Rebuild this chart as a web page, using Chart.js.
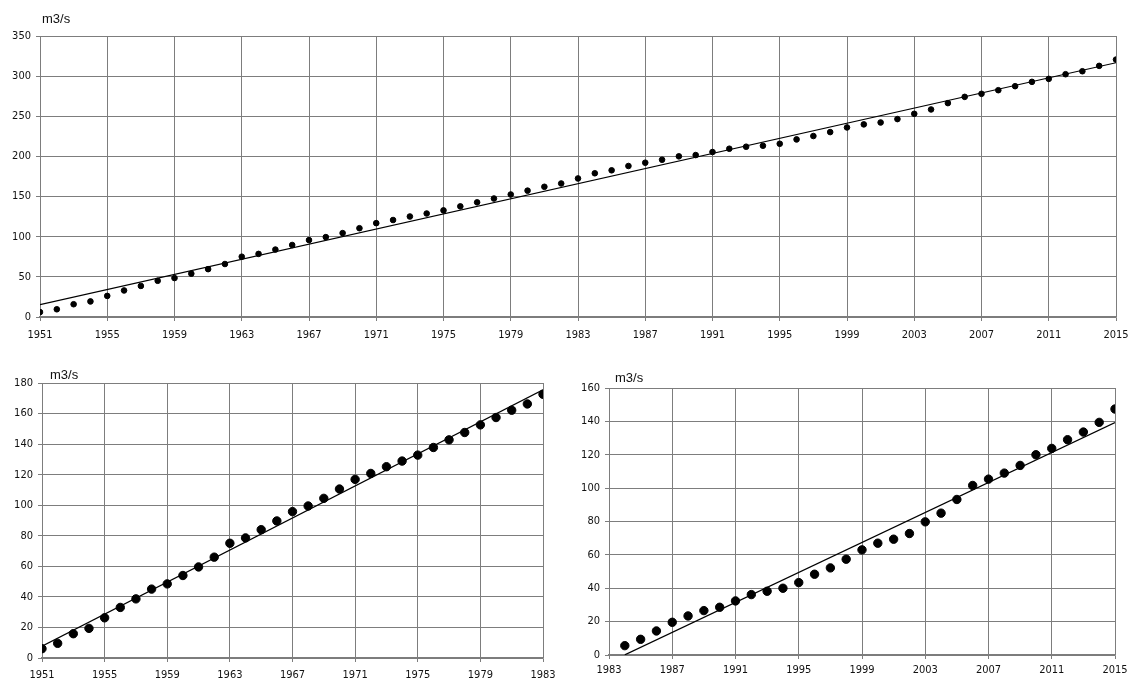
<!DOCTYPE html>
<html>
<head>
<meta charset="utf-8">
<script src="https://cdn.jsdelivr.net/npm/chart.js@4"></script>
<style>
  body { margin: 0; background: #fff; width: 1131px; height: 682px; position: relative; overflow: hidden; }
  .box { position: absolute; }
  .unit { position: absolute; font: 13px "Liberation Sans", Arial, sans-serif; color: #111; }
</style>
</head>
<body>
<div class="box" style="left:0;top:0;width:1131px;height:350px"><canvas id="top"></canvas></div>
<div class="box" style="left:0;top:355px;width:560px;height:327px"><canvas id="left"></canvas></div>
<div class="box" style="left:570px;top:355px;width:561px;height:327px"><canvas id="right"></canvas></div>
<div class="unit" style="left:42px;top:11px">m3/s</div>
<div class="unit" style="left:50px;top:367px">m3/s</div>
<div class="unit" style="left:615px;top:370px">m3/s</div>
<script>
// flow values, m3/s, one per year
const firstYear = 1951;
const flowAll = [6.1, 9.6, 15.9, 19.4, 26.3, 33.1, 38.7, 45.1, 48.5, 54.0,
  59.6, 66.0, 75.1, 78.6, 84.0, 89.7, 95.8, 99.5, 104.5, 110.6,
  116.9, 120.8, 125.2, 128.9, 132.8, 137.8, 142.8, 147.6, 152.6, 157.4,
  162.2, 166.3, 172.6,
  179.0, 182.7, 188.1, 192.2, 195.9, 200.1, 201.7, 205.5, 209.6, 212.1,
  213.3, 215.8, 221.2, 225.4, 230.3, 236.1, 239.9, 242.3, 246.5, 253.1,
  258.5, 266.4, 274.2, 278.0, 282.5, 287.5, 292.9, 296.6, 302.4, 306.1,
  312.8, 320.6];
// 1951-1983 part
const flowEarly = flowAll.slice(0, 33);
// 1984-2015, counted from the 1983 level
const secondStart = 1984;
const flowLate = [5.6, 9.4, 14.4, 19.6, 23.4, 26.6, 28.6, 32.4, 36.2, 38.2,
  40.0, 43.4, 48.4, 52.2, 57.4, 63.0, 67.0, 69.4, 72.8, 79.8,
  85.0, 93.2, 101.6, 105.4, 109.0, 113.6, 120.0, 123.8, 129.0, 133.6,
  139.4, 147.4];

const ticksTop = [1951, 1955, 1959, 1963, 1967, 1971, 1975, 1979, 1983, 1987, 1991, 1995, 1999, 2003, 2007, 2011, 2015];
const ticksLeft = [1951, 1955, 1959, 1963, 1967, 1971, 1975, 1979, 1983];
const ticksRight = [1983, 1987, 1991, 1995, 1999, 2003, 2007, 2011, 2015];

function toPoints(start, vals) {
  return vals.map((v, i) => ({ x: start + i, y: v }));
}

// least squares trend over the data span
function trend(pts) {
  const n = pts.length;
  let sx = 0, sy = 0, sxx = 0, sxy = 0;
  pts.forEach(p => { sx += p.x; sy += p.y; sxx += p.x * p.x; sxy += p.x * p.y; });
  const b = (n * sxy - sx * sy) / (n * sxx - sx * sx);
  const a = (sy - b * sx) / n;
  const x0 = pts[0].x, x1 = pts[n - 1].x;
  return [{ x: x0, y: a + b * x0 }, { x: x1, y: a + b * x1 }];
}

const tickFont = { family: '"DejaVu Sans Condensed", "DejaVu Sans", sans-serif', size: 11 };
const gridColor = '#7d7d7d';

function makeChart(id, pts, opt) {
  new Chart(document.getElementById(id), {
    type: 'scatter',
    data: {
      datasets: [
        { data: pts, backgroundColor: '#000', borderColor: '#000', pointRadius: opt.r, pointHoverRadius: opt.r },
        { type: 'line', data: trend(pts), borderColor: '#000', borderWidth: 1.2, pointRadius: 0, fill: false }
      ]
    },
    options: {
      responsive: true,
      maintainAspectRatio: false,
      animation: false,
      events: [],
      layout: { autoPadding: false, padding: { top: opt.top, right: opt.right, left: 0, bottom: 0 } },
      plugins: { legend: { display: false }, tooltip: { enabled: false } },
      scales: {
        x: {
          type: 'linear', min: opt.xmin, max: opt.xmax,
          afterBuildTicks: s => { s.ticks = opt.xticks.map(v => ({ value: v })); },
          afterFit: s => { s.height = opt.xh; s.paddingLeft = 0; s.paddingRight = 0; },
          grid: { color: gridColor, lineWidth: 1, tickLength: 4 },
          border: { color: gridColor, width: 1.5 },
          ticks: { color: '#111', font: tickFont, padding: opt.xpad, maxRotation: 0, autoSkip: false, callback: v => String(v) }
        },
        y: {
          min: 0, max: opt.ymax,
          afterFit: s => { s.width = opt.yw; s.paddingTop = 0; s.paddingBottom = 0; },
          grid: { color: gridColor, lineWidth: 1, tickLength: 4 },
          border: { color: gridColor, width: 1 },
          ticks: { color: '#111', font: tickFont, stepSize: opt.ystep, padding: 5 }
        }
      }
    }
  });
}

makeChart('top', toPoints(firstYear, flowAll), {
  r: 2.8, top: 36, right: 15, xh: 33, yw: 40, xpad: 8,
  xmin: 1951, xmax: 2015, xticks: ticksTop, ymax: 350, ystep: 50
});
makeChart('left', toPoints(firstYear, flowEarly), {
  r: 4.2, top: 28, right: 17, xh: 24, yw: 42, xpad: 7,
  xmin: 1951, xmax: 1983, xticks: ticksLeft, ymax: 180, ystep: 20
});
makeChart('right', toPoints(secondStart, flowLate), {
  r: 4.2, top: 33, right: 16, xh: 27, yw: 39, xpad: 5,
  xmin: 1983, xmax: 2015, xticks: ticksRight, ymax: 160, ystep: 20
});
</script>
</body>
</html>
